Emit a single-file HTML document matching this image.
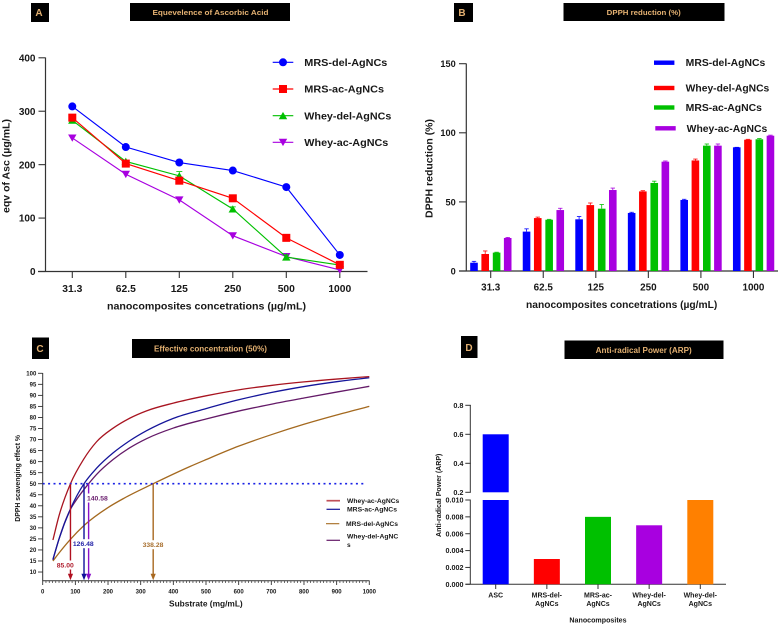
<!DOCTYPE html>
<html lang="en">
<head>
<meta charset="utf-8">
<title>Antioxidant activity of AgNCs</title>
<style>
html,body{margin:0;padding:0;background:#fff;width:779px;height:625px;overflow:hidden}
svg{display:block;filter:blur(0.3px)}
text{font-family:"Liberation Sans",Arial,sans-serif;font-weight:bold;fill:#181818}
.hd{fill:#e3b071}
</style>
</head>
<body>
<svg id="fig" xmlns="http://www.w3.org/2000/svg" width="779" height="625" viewBox="0 0 779 625">
<g>
  <rect x="31" y="3" width="18" height="19" fill="#000"/>
  <text class="hd" x="39" y="16" font-size="10" text-anchor="middle">A</text>
  <rect x="130" y="3" width="160" height="18" fill="#000"/>
  <text class="hd" x="152.5" y="15" font-size="7.5" textLength="116" lengthAdjust="spacingAndGlyphs">Equevelence of Ascorbic Acid</text>

  <rect x="454" y="3" width="19" height="19" fill="#000"/>
  <text class="hd" x="462" y="16" font-size="10" text-anchor="middle">B</text>
  <rect x="563.5" y="3" width="161" height="18" fill="#000"/>
  <text class="hd" x="606.7" y="15" font-size="7.5" textLength="74" lengthAdjust="spacingAndGlyphs">DPPH reduction (%)</text>

  <rect x="32" y="337.5" width="17" height="21.5" fill="#000"/>
  <text class="hd" x="40" y="352" font-size="10" text-anchor="middle">C</text>
  <rect x="132" y="339" width="158" height="19" fill="#000"/>
  <text class="hd" x="154" y="351.5" font-size="8" textLength="113" lengthAdjust="spacingAndGlyphs">Effective concentration (50%)</text>

  <rect x="461" y="336" width="16.5" height="22" fill="#000"/>
  <text class="hd" x="469" y="351" font-size="10" text-anchor="middle">D</text>
  <rect x="564.5" y="340.5" width="159" height="18.5" fill="#000"/>
  <text class="hd" x="595.7" y="353" font-size="8" textLength="96" lengthAdjust="spacingAndGlyphs">Anti-radical Power (ARP)</text>
</g>
<g id="chart-a"></g>
<g id="chart-b"></g>
<g id="chart-c"></g>
<g id="chart-d"></g>
</svg>
<script>
/* ---------- Panel A data ---------- */
const aCategories = ['31.3', '62.5', '125', '250', '500', '1000'];
const aTicks = [0, 100, 200, 300, 400];
const aMrsDel = [309, 233, 204, 189, 158, 31];
const aMrsAc = [288, 202, 170, 137, 63, 12.5];
const aWheyDel = [283, 206, 179, 117, 27, 12];
const aWheyAc = [250, 182, 134, 67, 28, 3];
const aWheyDelErr = [2, 2, 8, 4, 4, 1];

/* ---------- Panel B data ---------- */
const bCategories = ['31.3', '62.5', '125', '250', '500', '1000'];
const bTicks = [0, 50, 100, 150];
const bMrsDel = [6, 28.5, 37.4, 42, 51.4, 89.5];
const bWheyDel = [12.3, 38.3, 47.7, 57.6, 80, 95];
const bMrsAc = [13.3, 37.1, 45.1, 63.7, 90.7, 95.3];
const bWheyAc = [23.9, 44.1, 58.6, 79.1, 90.7, 97.9];
const bMrsDelErr = [1, 2, 2, 0.5, 0.5, 0];
const bWheyDelErr = [2.2, 0.7, 1.5, 0.5, 1, 0.3];
const bMrsAcErr = [0.3, 0.3, 3, 1.3, 1.2, 0.5];
const bWheyAcErr = [0.4, 1.3, 1.4, 0.5, 1.2, 0.4];

/* ---------- Panel C data ---------- */
const cXTicks = [0, 100, 200, 300, 400, 500, 600, 700, 800, 900, 1000];
const cYTicks = [10, 15, 20, 25, 30, 35, 40, 45, 50, 55, 60, 65, 70, 75, 80, 85, 90, 95, 100];
const cThreshold = 50;
const cWheyAcX = [31.3, 50, 85, 125, 165, 216, 267, 318, 400, 500, 600, 700, 800, 900, 1000];
const cWheyAcY = [24.5, 35.5, 50, 61, 69, 75.2, 79.7, 83, 86.5, 89.8, 92.5, 94.5, 96.1, 97.4, 98.5];
const cMrsAcX = [31.3, 50, 85, 126.48, 165, 216, 267, 318, 400, 500, 600, 700, 800, 900, 1000];
const cMrsAcY = [15.7, 25, 38.6, 50, 57, 64, 69.5, 74, 79.6, 84, 88, 91.3, 94, 96.2, 98];
const cMrsDelX = [31.3, 50, 85, 126, 200, 250, 338.28, 451, 500, 600, 700, 800, 900, 1000];
const cMrsDelY = [15, 18.6, 24.8, 31, 39.2, 43.5, 50, 57.8, 60.9, 67, 72.2, 76.9, 81.1, 85];
const cWheyDelX = [31.3, 50, 85, 100, 140.58, 165, 216, 267, 318, 400, 500, 600, 700, 800, 900, 1000];
const cWheyDelY = [15.5, 25, 38.4, 42, 50, 54.2, 61, 66.3, 70.4, 75.2, 79.3, 82.9, 86, 88.8, 91.5, 94.1];
const cEcValues = [85.00, 126.48, 140.58, 338.28];

/* ---------- Panel D data ---------- */
const dCategories = [['ASC'], ['MRS-del-', 'AgNCs'], ['MRS-ac-', 'AgNCs'], ['Whey-del-', 'AgNCs'], ['Whey-del-', 'AgNCs']];
const dValues = [0.6, 0.003, 0.008, 0.007, 0.01];
const dLowerTicks = [0, 0.002, 0.004, 0.006, 0.008, 0.01];
const dUpperTicks = [0.2, 0.4, 0.6, 0.8];

const NS = 'http://www.w3.org/2000/svg';
const BLUE = '#0000ff', RED = '#ff0000', GREEN = '#00c000', PURPLE = '#a800e0', ORANGE = '#ff8000', AXIS = '#333';

function svgEl(tag, parent, name) {
  const el = document.createElementNS(NS, tag);
  
  
  parent.appendChild(el);
  return el;
}
function line(parent, name, x1, y1, x2, y2, stroke, w) {
  const el = svgEl('line', parent, name);
  el.setAttribute('x1', x1); el.setAttribute('y1', y1);
  el.setAttribute('x2', x2); el.setAttribute('y2', y2);
  el.setAttribute('stroke', stroke); el.setAttribute('stroke-width', w);
  return el;
}
function text(parent, name, x, y, str, size, anchor, fill, rot) {
  const el = svgEl('text', parent, name);
  el.setAttribute('x', x); el.setAttribute('y', y);
  el.setAttribute('font-size', size);
  el.setAttribute('text-anchor', anchor || 'start');
  if (fill) el.style.fill = fill;
  if (rot) el.setAttribute('transform', 'rotate(-90 ' + x + ' ' + y + ')');
  el.textContent = str;
  return el;
}
function fit(el, len) {
  el.setAttribute('textLength', len);
  el.setAttribute('lengthAdjust', 'spacingAndGlyphs');
  return el;
}
function rect(parent, name, x, y, w, h, fill) {
  const el = svgEl('rect', parent, name);
  el.setAttribute('x', x); el.setAttribute('y', y);
  el.setAttribute('width', w); el.setAttribute('height', h);
  el.setAttribute('fill', fill);
  return el;
}
function marker(parent, name, kind, x, y, color) {
  if (kind === 'circle') {
    const c = svgEl('circle', parent, name);
    c.setAttribute('cx', x); c.setAttribute('cy', y); c.setAttribute('r', 4); c.setAttribute('fill', color);
    return c;
  }
  if (kind === 'square') return rect(parent, name, x - 4, y - 4, 8, 8, color);
  const p = svgEl('polygon', parent, name);
  const d = kind === 'up' ? 1 : -1;
  p.setAttribute('points', (x - 4.2) + ',' + (y + 3.5 * d) + ' ' + (x + 4.2) + ',' + (y + 3.5 * d) + ' ' + x + ',' + (y - 3.8 * d));
  p.setAttribute('fill', color);
  return p;
}

/* ---------- Panel A ---------- */
(function () {
  const g = document.getElementById('chart-a');
  const yA = v => 271.5 - v * (213.7 / 400);
  const xA = i => 72.3 + i * 53.5;
  line(g, 'y-axis', 45.5, 57.5, 45.5, 272, AXIS, 1.2);
  line(g, 'x-axis', 38, 271.5, 367.5, 271.5, AXIS, 1.2);
  aTicks.forEach(t => {
    line(g, 'y-tick', 38.5, yA(t), 45.5, yA(t), AXIS, 1.1);
    text(g, 'y-tick-label', 35.5, yA(t) + 3.6, String(t), 10, 'end');
  });
  aCategories.forEach((c, i) => {
    line(g, 'x-tick', xA(i), 271.5, xA(i), 278, AXIS, 1.1);
    text(g, 'x-tick-label', xA(i), 292, c, 10.3, 'middle');
  });
  fit(text(g, 'x-axis-title', 107, 309.5, 'nanocomposites concetrations (µg/mL)', 10.2, 'start'), 199);
  fit(text(g, 'y-axis-title', 9.5, 213, 'eqv of Asc (µg/mL)', 10, 'start', null, true), 94);

  const series = [
    { name: 'whey-ac', vals: aWheyAc, color: PURPLE, kind: 'down' },
    { name: 'whey-del', vals: aWheyDel, color: GREEN, kind: 'up' },
    { name: 'mrs-ac', vals: aMrsAc, color: RED, kind: 'square' },
    { name: 'mrs-del', vals: aMrsDel, color: BLUE, kind: 'circle' }
  ];
  series.forEach(s => {
    const pl = svgEl('polyline', g, 'series-line-' + s.name);
    pl.setAttribute('fill', 'none');
    pl.setAttribute('stroke', s.color);
    pl.setAttribute('stroke-width', 1.15);
    pl.setAttribute('points', s.vals.map((v, i) => xA(i) + ',' + yA(v)).join(' '));
    if (s.name === 'whey-del') {
      s.vals.forEach((v, i) => {
        line(g, 'error-bar', xA(i), yA(v), xA(i), yA(v + aWheyDelErr[i]), s.color, 0.8);
        line(g, 'error-cap', xA(i) - 3, yA(v + aWheyDelErr[i]), xA(i) + 3, yA(v + aWheyDelErr[i]), s.color, 0.8);
      });
    }
    s.vals.forEach((v, i) => marker(g, 'point-' + s.name, s.kind, xA(i), yA(v), s.color));
  });
  const legend = [
    ['MRS-del-AgNCs', BLUE, 'circle', 62.3, 83],
    ['MRS-ac-AgNCs', RED, 'square', 89, 79.7],
    ['Whey-del-AgNCs', GREEN, 'up', 115.7, 87],
    ['Whey-ac-AgNCs', PURPLE, 'down', 142.3, 84]
  ];
  legend.forEach(l => {
    line(g, 'legend-line', 272.7, l[3], 293.3, l[3], l[1], 1.15);
    marker(g, 'legend-marker', l[2], 283, l[3], l[1]);
    fit(text(g, 'legend-label', 304.3, l[3] + 3.7, l[0], 10.4, 'start'), l[4]);
  });
})();

/* ---------- Panel B ---------- */
(function () {
  const g = document.getElementById('chart-b');
  const yB = v => 271 - v * (207.3 / 150);
  const xB = i => 490.7 + i * 52.55;
  line(g, 'y-axis', 466.3, 63.5, 466.3, 271.5, AXIS, 1.2);
  line(g, 'x-axis', 459, 271, 778, 271, AXIS, 1.2);
  bTicks.forEach(t => {
    line(g, 'y-tick', 459, yB(t), 466.3, yB(t), AXIS, 1.1);
    text(g, 'y-tick-label', 455.7, yB(t) + 3.4, String(t), 9.2, 'end');
  });
  bCategories.forEach((c, i) => {
    line(g, 'x-tick', xB(i), 271, xB(i), 278, AXIS, 1.1);
    text(g, 'x-tick-label', xB(i), 290.5, c, 9.9, 'middle');
  });
  fit(text(g, 'x-axis-title', 526, 308, 'nanocomposites concetrations (µg/mL)', 9.8, 'start'), 191.3);
  fit(text(g, 'y-axis-title', 432.5, 218, 'DPPH reduction (%)', 10, 'start', null, true), 99);

  const groups = [
    { name: 'mrs-del', vals: bMrsDel, err: bMrsDelErr, color: BLUE, off: -16.7 },
    { name: 'whey-del', vals: bWheyDel, err: bWheyDelErr, color: RED, off: -5.5 },
    { name: 'mrs-ac', vals: bMrsAc, err: bMrsAcErr, color: GREEN, off: 5.9 },
    { name: 'whey-ac', vals: bWheyAc, err: bWheyAcErr, color: PURPLE, off: 17 }
  ];
  groups.forEach(s => {
    s.vals.forEach((v, i) => {
      const cx = xB(i) + s.off;
      line(g, 'error-bar-' + s.name, cx, yB(v), cx, yB(v + s.err[i]), s.color, 0.8);
      line(g, 'error-cap-' + s.name, cx - 2.2, yB(v + s.err[i]), cx + 2.2, yB(v + s.err[i]), s.color, 0.8);
      rect(g, 'bar-' + s.name, cx - 3.8, yB(v), 7.6, yB(0) - yB(v), s.color);
    });
  });
  const legend = [
    ['MRS-del-AgNCs', BLUE, 654, 62.7, 685.7, 79.6],
    ['Whey-del-AgNCs', RED, 654, 88, 685.7, 83.6],
    ['MRS-ac-AgNCs', GREEN, 654, 107.5, 685.7, 76.3],
    ['Whey-ac-AgNCs', PURPLE, 655.3, 128.3, 686.7, 80.6]
  ];
  legend.forEach(l => {
    rect(g, 'legend-swatch', l[2], l[3] - 2.2, 20.4, 4.4, l[1]);
    fit(text(g, 'legend-label', l[4], l[3] + 3.5, l[0], 9.9, 'start'), l[5]);
  });
})();

/* ---------- Panel C ---------- */
(function () {
  const g = document.getElementById('chart-c');
  const xC = v => 42.7 + v * 0.3266;
  const yC = v => 373.3 + (100 - v) * 2.208;
  line(g, 'y-axis', 42.7, 373, 42.7, 581, AXIS, 1);
  line(g, 'x-axis', 42.7, 580.7, 369.5, 580.7, AXIS, 1);
  cYTicks.forEach(t => {
    line(g, 'y-tick', 38, yC(t), 42.7, yC(t), AXIS, 0.9);
    text(g, 'y-tick-label', 36.3, yC(t) + 2.2, String(t), 6, 'end');
  });
  cXTicks.forEach((t, i) => {
    line(g, 'x-tick', xC(t), 580.7, xC(t), 585, AXIS, 0.9);
    text(g, 'x-tick-label', xC(t), 593.5, String(t), 6, 'middle');
    if (i < cXTicks.length - 1) {
      for (let k = 1; k < 10; k++) {
        const m = t + (cXTicks[i + 1] - t) * k / 10;
        line(g, 'x-minor-tick', xC(m), 580.7, xC(m), 583, AXIS, 0.7);
      }
    }
  });
  fit(text(g, 'x-axis-title', 169, 606.5, 'Substrate (mg/mL)', 8.5, 'start'), 73.7);
  fit(text(g, 'y-axis-title', 20, 521.7, 'DPPH scavenging effect %', 7, 'start', null, true), 86.7);

  /* monotone cubic through the read points */
  const curve = (xs, ys) => {
    const pts = xs.map((x, i) => [xC(x), yC(ys[i])]);
    const n = pts.length, h = [], s = [], m = [];
    for (let i = 0; i < n - 1; i++) {
      h[i] = pts[i + 1][0] - pts[i][0];
      s[i] = (pts[i + 1][1] - pts[i][1]) / h[i];
    }
    m[0] = s[0]; m[n - 1] = s[n - 2];
    for (let i = 1; i < n - 1; i++) {
      m[i] = (h[i] * s[i - 1] + h[i - 1] * s[i]) / (h[i] + h[i - 1]);
    }
    let d = 'M' + pts[0][0] + ' ' + pts[0][1];
    for (let i = 0; i < n - 1; i++) {
      d += 'C' + (pts[i][0] + h[i] / 3) + ' ' + (pts[i][1] + m[i] * h[i] / 3) + ' ' +
        (pts[i + 1][0] - h[i] / 3) + ' ' + (pts[i + 1][1] - m[i + 1] * h[i] / 3) + ' ' + pts[i + 1][0] + ' ' + pts[i + 1][1];
    }
    return d;
  };
  const curves = [
    { name: 'mrs-del', x: cMrsDelX, y: cMrsDelY, color: '#a4691f' },
    { name: 'whey-del', x: cWheyDelX, y: cWheyDelY, color: '#641a68' },
    { name: 'mrs-ac', x: cMrsAcX, y: cMrsAcY, color: '#15159a' },
    { name: 'whey-ac', x: cWheyAcX, y: cWheyAcY, color: '#a81420' }
  ];
  curves.forEach(s => {
    const p = svgEl('path', g, 'curve-' + s.name);
    p.setAttribute('d', curve(s.x, s.y));
    p.setAttribute('fill', 'none');
    p.setAttribute('stroke', s.color);
    p.setAttribute('stroke-width', 1.3);
  });
  const dots = line(g, 'threshold-50-line', xC(0), yC(cThreshold), 365, yC(cThreshold), '#1a22e6', 1.6);
  dots.setAttribute('stroke-dasharray', '2 3.4');

  const arrowColors = ['#b01020', '#10109a', '#8a10c8', '#a86820'];
  const labelColors = ['#b02030', '#2424a8', '#6c2070', '#a87030'];
  const labelSpots = [[65.3, 565], [83.3, 543.7], [97.4, 498], [153, 544.7]];
  cEcValues.forEach((v, i) => {
    const x = xC(v), top = yC(cThreshold), bottom = 580.2, c = arrowColors[i];
    line(g, 'ec50-arrow-line', x, top, x, bottom - 5, c, 1.4);
    const h = svgEl('polygon', g, 'ec50-arrow-head');
    h.setAttribute('points', (x - 2.6) + ',' + (bottom - 6.5) + ' ' + (x + 2.6) + ',' + (bottom - 6.5) + ' ' + x + ',' + bottom);
    h.setAttribute('fill', c);
  });
  cEcValues.forEach((v, i) => {
    const spot = labelSpots[i];
    rect(g, 'ec50-label-background', spot[0] - 11, spot[1] - 4.5, 22, 9, '#fff');
    text(g, 'ec50-label', spot[0], spot[1] + 2.4, v.toFixed(2), 6.8, 'middle', labelColors[i]);
  });

  const legend = [
    ['Whey-ac-AgNCs', '#c05058', 326.5, 340, 500.7, 347, 1.7, 52.3, 500.7],
    ['MRS-ac-AgNCs', '#15159a', 326.5, 340, 509.3, 347, 1.2, 50, 509.5],
    ['MRS-del-AgNCs', '#a4691f', 326, 339.3, 523.7, 346, 1.1, 52, 523.7],
    ['Whey-del-AgNC', '#641a68', 326.5, 340, 540.3, 347, 1.2, 51.3, 536.5]
  ];
  legend.forEach(l => {
    line(g, 'legend-line', l[2], l[4], l[3], l[4], l[1], l[6]);
    fit(text(g, 'legend-label', l[5], l[8] + 2.2, l[0], 6.5, 'start'), l[7]);
  });
  text(g, 'legend-label-wrap', 347, 547.2, 's', 6.5, 'start');
})();

/* ---------- Panel D ---------- */
(function () {
  const g = document.getElementById('chart-d');
  const yLow = v => 584.3 - v * (84.3 / 0.01);
  const yUp = v => 492.3 - (v - 0.2) * (87 / 0.6);
  const x = i => 495.7 + i * 51.15;
  line(g, 'y-axis-upper', 470.3, 405, 470.3, 492.5, AXIS, 1);
  line(g, 'y-axis-lower', 470.3, 499.5, 470.3, 584.5, AXIS, 1);
  line(g, 'x-axis', 465.5, 584.3, 726, 584.3, AXIS, 1);
  dUpperTicks.forEach(t => {
    line(g, 'y-tick-upper', 465.3, yUp(t), 470.8, yUp(t), AXIS, 1);
    text(g, 'y-tick-label-upper', 463.5, yUp(t) + 2.6, t.toFixed(1), 7.3, 'end');
  });
  dLowerTicks.forEach(t => {
    line(g, 'y-tick-lower', 465.3, yLow(t), 470.3, yLow(t), AXIS, 1);
    text(g, 'y-tick-label-lower', 463.5, yLow(t) + 2.6, t.toFixed(3), 7.2, 'end');
  });
  dValues.forEach((v, i) => {
    const colors = [BLUE, RED, GREEN, PURPLE, ORANGE];
    if (v > 0.01) {
      rect(g, 'bar-lower-segment', x(i) - 13, yLow(0.01), 26, yLow(0) - yLow(0.01), colors[i]);
      rect(g, 'bar-upper-segment', x(i) - 13, yUp(v), 26, yUp(0.2) - yUp(v), colors[i]);
    } else {
      rect(g, 'bar', x(i) - 13, yLow(v), 26, yLow(0) - yLow(v), colors[i]);
    }
    line(g, 'x-tick', x(i), 584.3, x(i), 589, AXIS, 1);
    dCategories[i].forEach((t, k) => {
      text(g, 'x-tick-label', x(i), 597.5 + k * 8.7, t, 7, 'middle');
    });
  });
  text(g, 'x-axis-title', 598, 622.5, 'Nanocomposites', 7.1, 'middle');
  fit(text(g, 'y-axis-title', 440.8, 537, 'Anti-radical Power (ARP)', 7.2, 'start', null, true), 83.4);
})();
</script>
</body>
</html>
